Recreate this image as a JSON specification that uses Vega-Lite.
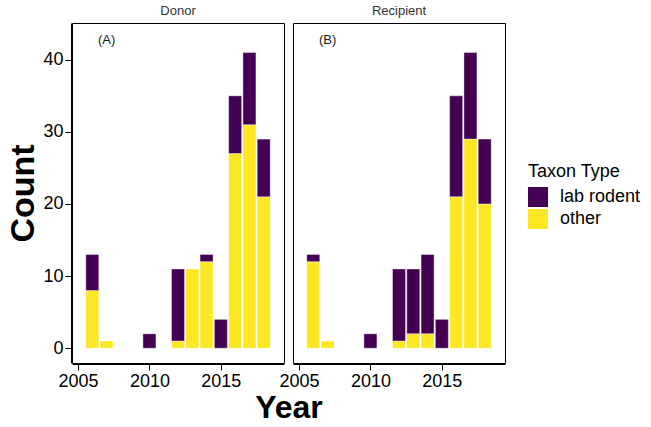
{
  "$schema": "https://vega.github.io/schema/vega-lite/v6.json",
  "padding": {"left": 6, "top": 5, "right": 0, "bottom": 0},
  "data": {"values": [
    {"panel": "Donor", "year": 2006, "type": "other", "count": 8},
    {"panel": "Donor", "year": 2006, "type": "lab rodent", "count": 5},
    {"panel": "Donor", "year": 2007, "type": "other", "count": 1},
    {"panel": "Donor", "year": 2010, "type": "lab rodent", "count": 2},
    {"panel": "Donor", "year": 2012, "type": "other", "count": 1},
    {"panel": "Donor", "year": 2012, "type": "lab rodent", "count": 10},
    {"panel": "Donor", "year": 2013, "type": "other", "count": 11},
    {"panel": "Donor", "year": 2014, "type": "other", "count": 12},
    {"panel": "Donor", "year": 2014, "type": "lab rodent", "count": 1},
    {"panel": "Donor", "year": 2015, "type": "lab rodent", "count": 4},
    {"panel": "Donor", "year": 2016, "type": "other", "count": 27},
    {"panel": "Donor", "year": 2016, "type": "lab rodent", "count": 8},
    {"panel": "Donor", "year": 2017, "type": "other", "count": 31},
    {"panel": "Donor", "year": 2017, "type": "lab rodent", "count": 10},
    {"panel": "Donor", "year": 2018, "type": "other", "count": 21},
    {"panel": "Donor", "year": 2018, "type": "lab rodent", "count": 8},
    {"panel": "Recipient", "year": 2006, "type": "other", "count": 12},
    {"panel": "Recipient", "year": 2006, "type": "lab rodent", "count": 1},
    {"panel": "Recipient", "year": 2007, "type": "other", "count": 1},
    {"panel": "Recipient", "year": 2010, "type": "lab rodent", "count": 2},
    {"panel": "Recipient", "year": 2012, "type": "other", "count": 1},
    {"panel": "Recipient", "year": 2012, "type": "lab rodent", "count": 10},
    {"panel": "Recipient", "year": 2013, "type": "other", "count": 2},
    {"panel": "Recipient", "year": 2013, "type": "lab rodent", "count": 9},
    {"panel": "Recipient", "year": 2014, "type": "other", "count": 2},
    {"panel": "Recipient", "year": 2014, "type": "lab rodent", "count": 11},
    {"panel": "Recipient", "year": 2015, "type": "lab rodent", "count": 4},
    {"panel": "Recipient", "year": 2016, "type": "other", "count": 21},
    {"panel": "Recipient", "year": 2016, "type": "lab rodent", "count": 14},
    {"panel": "Recipient", "year": 2017, "type": "other", "count": 29},
    {"panel": "Recipient", "year": 2017, "type": "lab rodent", "count": 12},
    {"panel": "Recipient", "year": 2018, "type": "other", "count": 20},
    {"panel": "Recipient", "year": 2018, "type": "lab rodent", "count": 9},
    {"panel": "Donor", "label": "(A)"},
    {"panel": "Recipient", "label": "(B)"}
  ]},
  "facet": {
    "column": {
      "field": "panel", "type": "nominal", "sort": ["Donor", "Recipient"],
      "header": {
        "title": "Year", "titleOrient": "bottom", "labelOrient": "top",
        "titleFont": "Liberation Sans", "titleFontSize": 32, "titleFontWeight": "bold", "titleColor": "black",
        "titlePadding": -7,
        "labelFont": "Liberation Sans", "labelFontSize": 13, "labelColor": "#333333", "labelPadding": 4
      }
    }
  },
  "spacing": 7,
  "spec": {
    "width": 212,
    "height": 340,
    "layer": [
      {
        "transform": [{"filter": "isValid(datum.count)"}],
        "mark": {"type": "bar", "size": 13, "stroke": "white", "strokeWidth": 0.4},
        "encoding": {
          "x": {"field": "year", "type": "quantitative",
                "scale": {"domain": [2004.93, 2019.07], "nice": false, "zero": false},
                "axis": {"values": [2005, 2010, 2015], "format": "d", "title": null}},
          "y": {"field": "count", "type": "quantitative", "stack": "zero",
                "scale": {"domain": [-2.05, 45.1], "nice": false, "zero": false},
                "axis": {"values": [0, 10, 20, 30, 40], "title": "Count"}},
          "color": {"field": "type", "type": "nominal",
                    "scale": {"domain": ["lab rodent", "other"], "range": ["#440154", "#FDE725"]},
                    "legend": {"title": "Taxon Type", "orient": "none", "legendX": 456, "legendY": 140}},
          "order": {"field": "type", "sort": "descending"}
        }
      },
      {
        "transform": [{"filter": "isValid(datum.label)"}],
        "mark": {"type": "text", "fontSize": 13, "font": "Liberation Sans", "color": "#1a1a1a"},
        "encoding": {
          "x": {"datum": 2007},
          "y": {"datum": 42.7},
          "text": {"field": "label"}
        }
      }
    ]
  },
  "config": {
    "font": "Liberation Sans",
    "view": {"stroke": "black", "strokeWidth": 1},
    "axis": {
      "grid": false, "domainColor": "black", "tickColor": "black", "labelColor": "black",
      "labelFontSize": 18, "tickSize": 6, "labelPadding": 2, "labelFlush": false,
      "titleFontSize": 34, "titleFontWeight": "bold", "titleColor": "black", "titlePadding": 2
    },
    "legend": {
      "symbolType": "square", "symbolSize": 400, "symbolStrokeWidth": 0,
      "labelFontSize": 18, "titleFontSize": 18, "titleFontWeight": "normal",
      "labelColor": "black", "titleColor": "black",
      "rowPadding": 2, "labelOffset": 12, "titlePadding": 6
    }
  }
}
